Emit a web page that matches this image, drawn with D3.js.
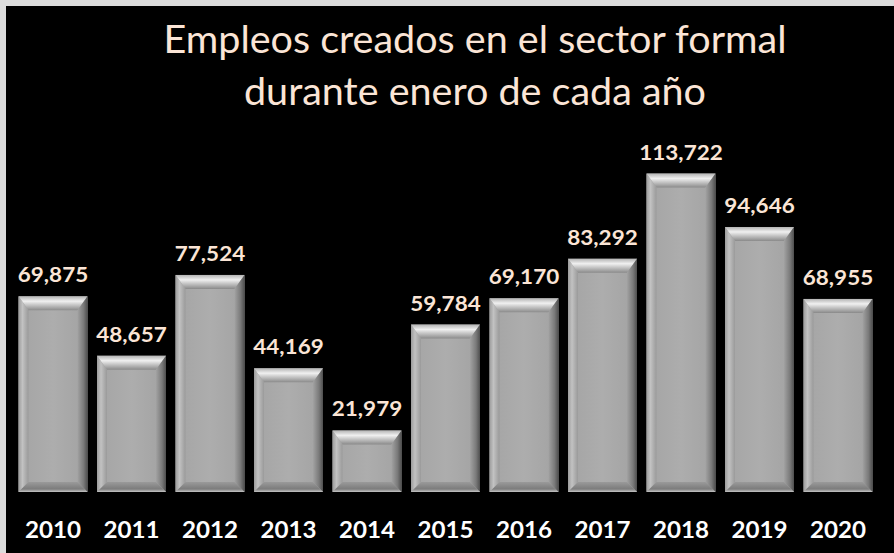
<!DOCTYPE html>
<html>
<head>
<meta charset="utf-8">
<script src="https://cdn.jsdelivr.net/npm/d3@7"></script>
<style>
  body { margin: 0; background: #dcdcdc; }
  svg { display: block; }
</style>
</head>
<body>
<div id="chart"></div>
<script>
// datos
const years = ["2010", "2011", "2012", "2013", "2014", "2015", "2016", "2017", "2018", "2019", "2020"];
const empleos = [69875, 48657, 77524, 44169, 21979, 59784, 69170, 83292, 113722, 94646, 68955];
const titleLines = ["Empleos creados en el sector formal", "durante enero de cada año"];

const W = 894, H = 553;
const peach = "#fbe5d6";
const fontFam = "Lato, 'Open Sans', sans-serif";

const svg = d3.select("#chart").append("svg")
    .attr("width", W)
    .attr("height", H);

// fondo negro con borde gris claro arriba/izquierda
svg.append("rect").attr("x", 0).attr("y", 0).attr("width", W).attr("height", H).attr("fill", "#dcdcdc");
svg.append("rect").attr("x", 6).attr("y", 6).attr("width", W - 6).attr("height", H - 6).attr("fill", "#000");

const data = years.map((y, i) => ({ year: y, value: empleos[i] }));

const x = d3.scaleBand()
    .domain(years)
    .range([13.75, 877.25])
    .paddingInner(0.121)
    .paddingOuter(0.0605);

const y = d3.scaleLinear()
    .domain([0, 120000])
    .range([492, 156]);

// gradientes del bisel
const defs = svg.append("defs");
function grad(id, x2, y2, stops) {
    const g = defs.append("linearGradient").attr("id", id)
        .attr("x1", 0).attr("y1", 0).attr("x2", x2).attr("y2", y2);
    stops.forEach(s => g.append("stop").attr("offset", s[0]).attr("stop-color", s[1]));
}
grad("gTop", 0, 1, [[0, "#b4b4b4"], [0.35, "#f0f0f0"], [0.6, "#c8c8c8"], [1, "#8a8a8a"]]);
grad("gLeft", 1, 0, [[0, "#9c9c9c"], [0.4, "#c2c2c2"], [1, "#9a9a9a"]]);
grad("gRight", 1, 0, [[0, "#a2a2a2"], [0.6, "#7a7a7a"], [1, "#4e4e4e"]]);
grad("gBottom", 0, 1, [[0, "#9a9a9a"], [0.7, "#7c7c7c"], [1, "#c4c4c4"]]);
grad("gFace", 1, 0, [[0, "#a4a4a4"], [0.5, "#adadad"], [1, "#a2a2a2"]]);

const bT = 14, bS = 10, bB = 10; // tamaño del bisel

const bars = svg.selectAll("g.bar")
    .data(data)
    .join("g")
    .attr("class", "bar");

bars.append("rect")
    .attr("x", d => x(d.year))
    .attr("y", d => y(d.value))
    .attr("width", x.bandwidth())
    .attr("height", d => y(0) - y(d.value))
    .attr("fill", "url(#gFace)");

const pts = p => p.map(q => q.join(",")).join(" ");

bars.append("polygon") // arriba
    .attr("fill", "url(#gTop)")
    .attr("points", d => {
        const x0 = x(d.year), x1 = x0 + x.bandwidth(), t = y(d.value);
        return pts([[x0, t], [x1, t], [x1 - bS, t + bT], [x0 + bS, t + bT]]);
    });
bars.append("polygon") // izquierda
    .attr("fill", "url(#gLeft)")
    .attr("points", d => {
        const x0 = x(d.year), t = y(d.value), b = y(0);
        return pts([[x0, t], [x0 + bS, t + bT], [x0 + bS, b - bB], [x0, b]]);
    });
bars.append("polygon") // derecha
    .attr("fill", "url(#gRight)")
    .attr("points", d => {
        const x1 = x(d.year) + x.bandwidth(), t = y(d.value), b = y(0);
        return pts([[x1, t], [x1 - bS, t + bT], [x1 - bS, b - bB], [x1, b]]);
    });
bars.append("polygon") // abajo
    .attr("fill", "url(#gBottom)")
    .attr("points", d => {
        const x0 = x(d.year), x1 = x0 + x.bandwidth(), b = y(0);
        return pts([[x0, b], [x1, b], [x1 - bS, b - bB], [x0 + bS, b - bB]]);
    });

// etiquetas de valores
const fmt = d3.format(",");
svg.selectAll("text.val")
    .data(data)
    .join("text")
    .attr("class", "val")
    .attr("transform", d => `translate(${x(d.year) + x.bandwidth() / 2},${y(d.value) - 14}) scale(1.07,1)`)
    .attr("text-anchor", "middle")
    .attr("font-family", fontFam)
    .attr("font-weight", "bold")
    .attr("font-size", 21)
    .attr("fill", peach)
    .text(d => fmt(d.value));

// eje x (años)
const xAxis = svg.append("g")
    .attr("transform", `translate(0,${y(0)})`)
    .call(d3.axisBottom(x).tickSize(0).tickPadding(0));
xAxis.select(".domain").remove();
xAxis.selectAll("text")
    .attr("dy", 0)
    .attr("y", 0)
    .attr("transform", "translate(0,46) scale(1.05,1)")
    .attr("font-family", fontFam)
    .attr("font-weight", "bold")
    .attr("font-size", 23)
    .attr("fill", "#fff");

// titulo
svg.append("text")
    .attr("x", 475)
    .attr("y", 53)
    .attr("text-anchor", "middle")
    .attr("font-family", fontFam)
    .attr("font-size", 39.5)
    .attr("fill", peach)
    .selectAll("tspan")
    .data(titleLines)
    .join("tspan")
    .attr("x", 475)
    .attr("dy", (d, i) => i === 0 ? 0 : 52)
    .text(d => d);
</script>
</body>
</html>
